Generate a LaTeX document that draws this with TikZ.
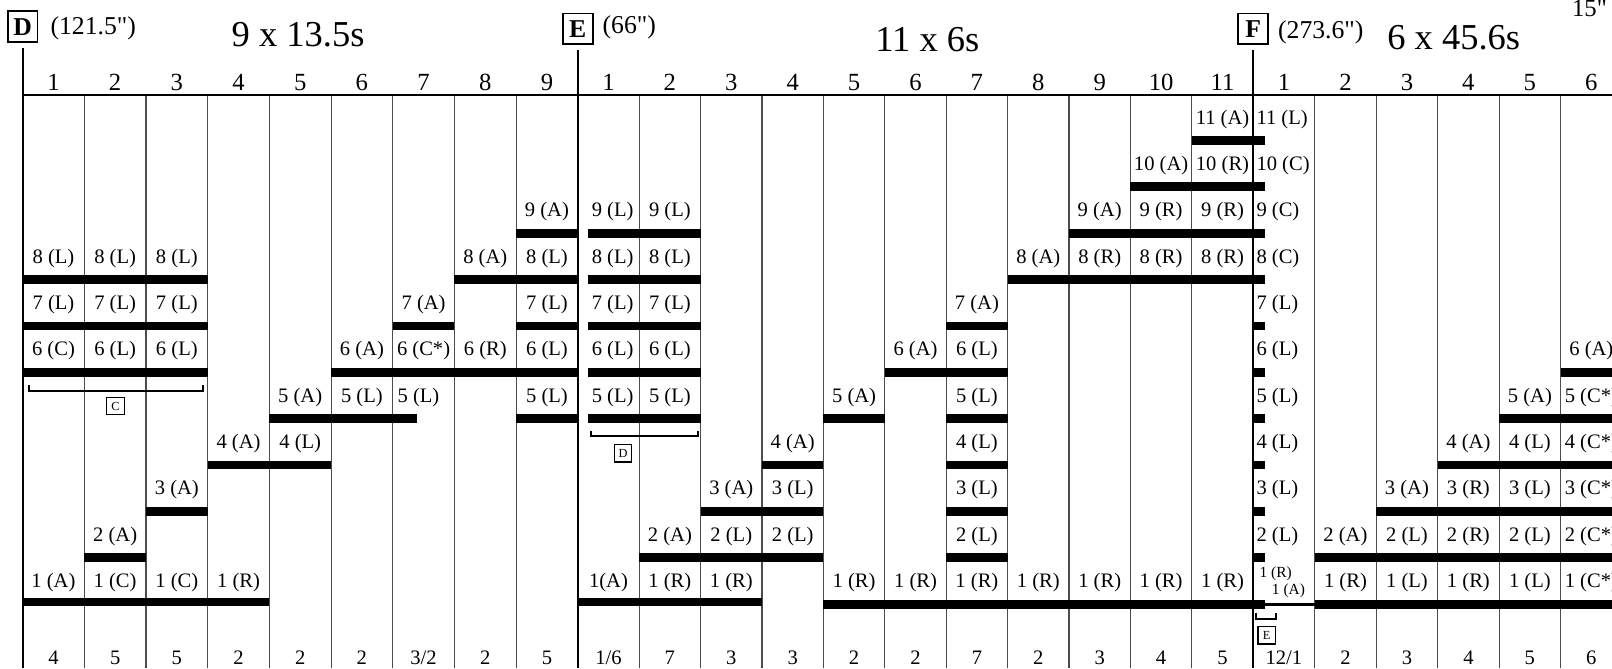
\documentclass[tikz,border=0pt]{standalone}
\usepackage{fontspec}
\setmainfont[Ligatures=TeXOff]{Liberation Serif}
\newcommand\labD[3]{\node[lab] (D#1-#2) at ({-8+60*#1},{616.6-45.08*#2}) {#3};}
\newcommand\labE[4][0]{\node[lab] (E#2-#3) at ({562+59.727*(#2-0.5)+#1},{616.6-45.08*#3}) {#4};}
\newcommand\labF[3]{\node[lab] (F#1-#2) at ({1219+59.8*(#1-0.5)},{616.6-45.08*#2}) {#3};}
\newcommand\labFa[2]{\node[lab, anchor=base west] (Fa-#1) at (1222,{616.6-45.08*#1}) {#2};}
\newcommand\lvbar[3]{\fill (#1,{632.6-45.08*#3-4.3}) rectangle (#2,{632.6-45.08*#3+4.3});}
\begin{document}
\begin{tikzpicture}[x=1pt,y=-1pt,
  lab/.style={font=\fontsize{20}{22}\selectfont, inner sep=0pt, anchor=base},
  sml/.style={font=\fontsize{15}{16}\selectfont, inner sep=0pt, anchor=base west},
  hdr/.style={font=\fontsize{24}{26}\selectfont, inner sep=0pt, anchor=base},
  btm/.style={font=\fontsize{20}{22}\selectfont, inner sep=0pt, anchor=base},
  ttl/.style={font=\fontsize{35.5}{38}\selectfont, inner sep=0pt, anchor=base},
  secval/.style={font=\fontsize{25}{27}\selectfont, inner sep=0pt, anchor=base west},
  secbox/.style={draw, line width=1.6pt, font=\bfseries\fontsize{25}{27}\selectfont, minimum width=29pt, minimum height=30pt, inner sep=0pt},
  tagbox/.style={draw, line width=1.3pt, font=\fontsize{12}{13}\selectfont, minimum width=17pt, minimum height=17pt, inner sep=0pt},
  colline/.style={line width=1pt, black!70},
  secline/.style={line width=2pt},
  brk/.style={line width=1.7pt},
]
\useasboundingbox (0,0) rectangle (1568,650);
\clip (0,0) rectangle (1568,650);
\fill[white] (0,0) rectangle (1568,650);

% column lines
\foreach \i in {1,...,8} \draw[colline] ({22+60*\i},92.4) -- ({22+60*\i},650);
\foreach \i in {1,...,10} \draw[colline] ({562+59.727*\i},92.4) -- ({562+59.727*\i},650);
\foreach \i in {1,...,6} \draw[colline] ({1219+59.8*\i},92.4) -- ({1219+59.8*\i},650);

% section boxes and lines
\node[secbox] (boxD) at (22,26) {D};
\node[secbox] (boxE) at (562,28) {E};
\node[secbox] (boxF) at (1219,28) {F};
\coordinate (botD) at (22,650);
\coordinate (botE) at (562,650);
\coordinate (botF) at (1219,650);
\draw[secline] ([yshift=-5pt]boxD.south) -- (botD);
\draw[secline] ([yshift=-5pt]boxE.south) -- (botE);
\draw[secline] ([yshift=-5pt]boxF.south) -- (botF);
\draw[secline] (22,92.4) -- (1568,92.4);

% top texts
\node[secval] (vD) at (49,33.5) {(121.5")};
\node[secval] (vE) at (586,33) {(66")};
\node[secval] (vF) at (1243,37.6) {(273.6")};
\node[secval, font=\fontsize{24}{26}\selectfont] (vG) at (1529,16) {15"};
\node[ttl] (tD) at (290,45.5) {9 x 13.5s};
\node[ttl] (tE) at (902,50.5) {11 x 6s};
\node[ttl] (tF) at (1414,48.6) {6 x 45.6s};

% header numbers
\foreach \i in {1,...,9} \node[hdr] (hD\i) at ({-8+60*\i},87.6) {\i};
\foreach \i in {1,...,11} \node[hdr] (hE\i) at ({562+59.727*(\i-0.5)},87.6) {\i};
\foreach \i in {1,...,6} \node[hdr] (hF\i) at ({1219+59.8*(\i-0.5)},87.6) {\i};

% bottom numbers
\foreach \t [count=\i] in {4,5,5,2,2,2,{3/2},2,5} \node[btm] (bD\i) at ({-8+60*\i},646) {\t};
\foreach \t [count=\i] in {{1/6},7,3,3,2,2,7,2,3,4,5} \node[btm] (bE\i) at ({562+59.727*(\i-0.5)},646) {\t};
\foreach \t [count=\i] in {{12/1},2,3,4,5,6} \node[btm] (bF\i) at ({1219+59.8*(\i-0.5)},646) {\t};

% ---- bars ----
% level 1
\fill (22,581.2) rectangle (262,589.8);
\fill (562,581.2) rectangle (741.2,589.8);
\fill (800.9,583.7) rectangle (1230,592.3);
\fill (1230,586.4) rectangle (1278.8,589.6);
\fill (1278.8,583.7) rectangle (1568,592.3);
% level 2
\lvbar{82}{142}{2} \lvbar{621.7}{800.9}{2} \lvbar{920.4}{980.1}{2} \lvbar{1219}{1230}{2} \lvbar{1278.8}{1568}{2}
% level 3
\lvbar{142}{202}{3} \lvbar{681.5}{800.9}{3} \lvbar{920.4}{980.1}{3} \lvbar{1219}{1230}{3} \lvbar{1338.6}{1568}{3}
% level 4
\lvbar{202}{322}{4} \lvbar{741.2}{800.9}{4} \lvbar{920.4}{980.1}{4} \lvbar{1219}{1230}{4} \lvbar{1398.4}{1568}{4}
% level 5
\lvbar{262}{405.8}{5} \lvbar{502}{562}{5} \lvbar{572}{681.5}{5} \lvbar{800.9}{860.6}{5} \lvbar{920.4}{980.1}{5} \lvbar{1219}{1230}{5} \lvbar{1458.2}{1568}{5}
% level 6
\lvbar{22}{202}{6} \lvbar{322}{562}{6} \lvbar{572}{681.5}{6} \lvbar{860.6}{980.1}{6} \lvbar{1219}{1230}{6} \lvbar{1518}{1568}{6}
% level 7
\lvbar{22}{202}{7} \lvbar{382}{442}{7} \lvbar{502}{562}{7} \lvbar{572}{681.5}{7} \lvbar{920.4}{980.1}{7} \lvbar{1219}{1230}{7}
% level 8
\lvbar{22}{202}{8} \lvbar{442}{562}{8} \lvbar{572}{681.5}{8} \lvbar{980.1}{1230}{8}
% level 9
\lvbar{502}{562}{9} \lvbar{572}{681.5}{9} \lvbar{1039.8}{1230}{9}
% level 10, 11
\lvbar{1099.5}{1230}{10}
\lvbar{1159.3}{1230}{11}

% ---- labels section D ----
\labD{1}{1}{1 (A)} \labD{2}{1}{1 (C)} \labD{3}{1}{1 (C)} \labD{4}{1}{1 (R)}
\labD{2}{2}{2 (A)}
\labD{3}{3}{3 (A)}
\labD{4}{4}{4 (A)} \labD{5}{4}{4 (L)}
\labD{5}{5}{5 (A)} \labD{6}{5}{5 (L)}
\node[lab] (D7-5) at (407,{616.6-45.08*5}) {5 (L)};
\labD{9}{5}{5 (L)}
\labD{1}{6}{6 (C)} \labD{2}{6}{6 (L)} \labD{3}{6}{6 (L)} \labD{6}{6}{6 (A)} \labD{7}{6}{6 (C*)} \labD{8}{6}{6 (R)} \labD{9}{6}{6 (L)}
\labD{1}{7}{7 (L)} \labD{2}{7}{7 (L)} \labD{3}{7}{7 (L)} \labD{7}{7}{7 (A)} \labD{9}{7}{7 (L)}
\labD{1}{8}{8 (L)} \labD{2}{8}{8 (L)} \labD{3}{8}{8 (L)} \labD{8}{8}{8 (A)} \labD{9}{8}{8 (L)}
\labD{9}{9}{9 (A)}

% ---- labels section E ----
\labE{1}{1}{1(A)} \labE{2}{1}{1 (R)} \labE{3}{1}{1 (R)}
\foreach \c in {5,...,11} {\labE{\c}{1}{1 (R)}}
\labE{2}{2}{2 (A)} \labE{3}{2}{2 (L)} \labE{4}{2}{2 (L)} \labE{7}{2}{2 (L)}
\labE{3}{3}{3 (A)} \labE{4}{3}{3 (L)} \labE{7}{3}{3 (L)}
\labE{4}{4}{4 (A)} \labE{7}{4}{4 (L)}
\labE[4]{1}{5}{5 (L)} \labE{2}{5}{5 (L)} \labE{5}{5}{5 (A)} \labE{7}{5}{5 (L)}
\labE[4]{1}{6}{6 (L)} \labE{2}{6}{6 (L)} \labE{6}{6}{6 (A)} \labE{7}{6}{6 (L)}
\labE[4]{1}{7}{7 (L)} \labE{2}{7}{7 (L)} \labE{7}{7}{7 (A)}
\labE[4]{1}{8}{8 (L)} \labE{2}{8}{8 (L)} \labE{8}{8}{8 (A)} \labE{9}{8}{8 (R)} \labE{10}{8}{8 (R)} \labE{11}{8}{8 (R)}
\labE[4]{1}{9}{9 (L)} \labE{2}{9}{9 (L)} \labE{9}{9}{9 (A)} \labE{10}{9}{9 (R)} \labE{11}{9}{9 (R)}
\labE{10}{10}{10 (A)} \labE{11}{10}{10 (R)}
\labE{11}{11}{11 (A)}

% ---- labels section F ----
\labFa{11}{11 (L)} \labFa{10}{10 (C)} \labFa{9}{9 (C)} \labFa{8}{8 (C)}
\labFa{7}{7 (L)} \labFa{6}{6 (L)} \labFa{5}{5 (L)} \labFa{4}{4 (L)} \labFa{3}{3 (L)} \labFa{2}{2 (L)}
\node[sml] (Fa-1r) at (1225,561.5) {1 (R)};
\node[sml] (Fa-1a) at (1237,577.9) {1 (A)};
\labF{2}{1}{1 (R)} \labF{3}{1}{1 (L)} \labF{4}{1}{1 (R)} \labF{5}{1}{1 (L)} \labF{6}{1}{1 (C*)}
\labF{2}{2}{2 (A)} \labF{3}{2}{2 (L)} \labF{4}{2}{2 (R)} \labF{5}{2}{2 (L)} \labF{6}{2}{2 (C*)}
\labF{3}{3}{3 (A)} \labF{4}{3}{3 (R)} \labF{5}{3}{3 (L)} \labF{6}{3}{3 (C*)}
\labF{4}{4}{4 (A)} \labF{5}{4}{4 (L)} \labF{6}{4}{4 (C*)}
\labF{5}{5}{5 (A)} \labF{6}{5}{5 (C*)}
\labF{6}{6}{6 (A)}

% ---- brackets and tags ----
\draw[brk] (28.5,374.5) -- (28.5,380) -- (197.7,380) -- (197.7,374.5);
\node[tagbox] (tagC) at (112.3,395) {C};
\draw[brk] (575,419) -- (575,424) -- (678.6,424) -- (678.6,419);
\node[tagbox] (tagD) at (606,441) {D};
\draw[brk] (1222,596) -- (1222,602) -- (1241,602) -- (1241,596);
\node[tagbox] (tagE) at (1232,618) {E};
\end{tikzpicture}
\end{document}
